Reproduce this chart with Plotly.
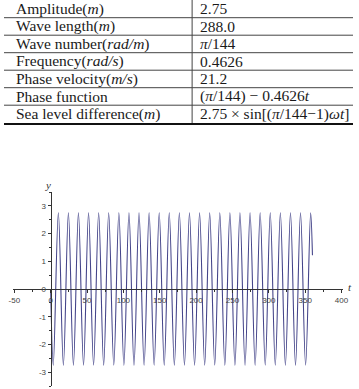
import plotly.graph_objects as go

# ---------------- data ----------------
param_names = [
    "Amplitude(<i>m</i>)",
    "Wave length(<i>m</i>)",
    "Wave number(<i>rad/m</i>)",
    "Frequency(<i>rad/s</i>)",
    "Phase velocity(<i>m/s</i>)",
    "Phase function",
    "Sea level difference(<i>m</i>)",
]
param_values = [
    "2.75",
    "288.0",
    "<i>π</i>/144",
    "0.4626",
    "21.2",
    "(<i>π</i>/144) − 0.4626<i>t</i>",
    "2.75 × sin[(<i>π</i>/144−1)<i>ωt</i>]",
]

# extrema of the wave (t, y)
peak_t = [10.6, 24.4, 38.2, 52.1, 66.0, 79.8, 93.8, 107.7, 121.5, 135.4, 149.3, 163.1, 177.0,
          190.9, 204.8, 218.7, 232.6, 246.5, 260.3, 274.2, 288.1, 302.0, 315.9, 329.8, 343.6, 357.5]
trough_t = [3.6, 17.5, 31.3, 45.2, 59.0, 72.9, 86.8, 100.7, 114.6, 128.5, 142.3, 156.2, 170.1,
            184.0, 197.9, 211.8, 225.6, 239.5, 253.4, 267.3, 281.2, 295.1, 308.9, 322.8, 336.7, 350.6]
peak_y = 2.75
trough_y = -2.75
start_point = (0.0, 0.0)
end_point = (360.0, 1.22)

x_ticks = [-50, 0, 50, 100, 150, 200, 250, 300, 350, 400]
y_ticks = [-3, -2, -1, 0, 1, 2, 3]
x_ticktext = [str(v) for v in x_ticks]
y_ticktext = [str(v) for v in y_ticks]

# ---------------- build curve ----------------
pts = [start_point] + [(t, peak_y) for t in peak_t] + [(t, trough_y) for t in trough_t] + [end_point]
pts.sort(key=lambda p: p[0])
tt = [p[0] for p in pts]
yy = [p[1] for p in pts]

W, H = 359, 389


def px(x):
    return x / W


def py(y):
    return 1 - y / H


x_range = [-52, 402]
y_range = [-3.5, 3.5]
x_dom = [px(9.1), px(348.7)]
y_dom = [py(386), py(192)]

x0_pos = x_dom[0] + (0 - x_range[0]) / (x_range[1] - x_range[0]) * (x_dom[1] - x_dom[0])
y0_pos = y_dom[0] + (0 - y_range[0]) / (y_range[1] - y_range[0]) * (y_dom[1] - y_dom[0])

fig = go.Figure()
fig.add_trace(go.Scatter(
    x=tt, y=yy, mode="lines",
    line=dict(color="#45458a", width=1.1, shape="spline", smoothing=1.0),
    hoverinfo="skip", showlegend=False,
))

axis_color = "#333333"
tick_font = dict(family="Liberation Sans, Arial, sans-serif", size=8, color="#444444")

fig.update_layout(
    width=W, height=H,
    margin=dict(l=0, r=0, t=0, b=0),
    paper_bgcolor="white", plot_bgcolor="white",
    showlegend=False,
    xaxis=dict(
        domain=x_dom, range=x_range, anchor="free", position=y0_pos,
        showgrid=False, zeroline=False, showline=True, linecolor=axis_color, linewidth=1,
        tickmode="array", tickvals=x_ticks, ticktext=x_ticktext,
        ticks="outside", ticklen=3, tickcolor=axis_color, tickwidth=1,
        tickfont=tick_font,
        minor=dict(dtick=25, tick0=-50, ticks="outside", ticklen=2, tickcolor=axis_color),
        fixedrange=True,
    ),
    yaxis=dict(
        domain=y_dom, range=y_range, anchor="free", position=x0_pos,
        showgrid=False, zeroline=False, showline=True, linecolor=axis_color, linewidth=1,
        tickmode="array", tickvals=y_ticks, ticktext=y_ticktext,
        ticks="outside", ticklen=3, tickcolor=axis_color, tickwidth=1,
        tickfont=tick_font,
        minor=dict(dtick=0.5, tick0=0, ticks="outside", ticklen=2, tickcolor=axis_color),
        fixedrange=True,
    ),
)

# ---------------- table ----------------
shapes = []
row_h = 17.5
n = len(param_names)
for i in range(1, n):
    yl = row_h * i + 0.2
    shapes.append(dict(type="line", xref="paper", yref="paper",
                       x0=0, x1=1, y0=py(yl), y1=py(yl),
                       line=dict(color="#444444", width=1)))
shapes.append(dict(type="line", xref="paper", yref="paper",
                   x0=0, x1=1, y0=py(124), y1=py(124),
                   line=dict(color="#111111", width=2)))
shapes.append(dict(type="line", xref="paper", yref="paper",
                   x0=px(193.5), x1=px(193.5), y0=py(0), y1=py(123),
                   line=dict(color="#444444", width=1)))

annotations = []
text_font = dict(family="Liberation Serif, Times New Roman, serif", size=15.5, color="#1a1a1a")
for i, (name, val) in enumerate(zip(param_names, param_values)):
    yc = 8.7 + row_h * i
    annotations.append(dict(xref="paper", yref="paper", x=px(10.5), y=py(yc),
                            text=name, showarrow=False, xanchor="left", yanchor="middle",
                            font=text_font))
    annotations.append(dict(xref="paper", yref="paper", x=px(199.5), y=py(yc),
                            text=val, showarrow=False, xanchor="left", yanchor="middle",
                            font=text_font))

# axis name labels
annotations.append(dict(xref="paper", yref="paper", x=px(45), y=py(185), text="<i>y</i>",
                        showarrow=False, xanchor="center", yanchor="middle",
                        font=dict(family="Liberation Serif, serif", size=11, color="#333333")))
annotations.append(dict(xref="paper", yref="paper", x=px(356), y=py(287), text="<i>t</i>",
                        showarrow=False, xanchor="center", yanchor="middle",
                        font=dict(family="Liberation Serif, serif", size=11, color="#333333")))

fig.update_layout(shapes=shapes, annotations=annotations)

fig.write_html("out.html")
